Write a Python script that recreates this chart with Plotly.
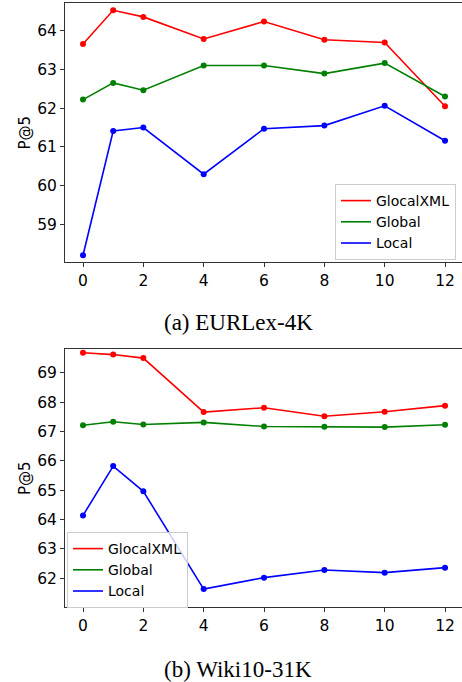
import plotly.graph_objects as go

x_vals = [0, 1, 2, 4, 6, 8, 10, 12]
series_names = ["GlocalXML", "Global", "Local"]
colors = ["#ff0000", "#008000", "#0000ff"]

eurlex_glocal = [63.65, 64.52, 64.35, 63.78, 64.23, 63.76, 63.69, 62.05]
eurlex_global = [62.22, 62.65, 62.46, 63.10, 63.10, 62.89, 63.16, 62.30]
eurlex_local = [58.21, 61.41, 61.50, 60.30, 61.47, 61.55, 62.06, 61.16]

wiki_glocal = [69.68, 69.62, 69.50, 67.66, 67.81, 67.52, 67.67, 67.88]
wiki_global = [67.21, 67.33, 67.24, 67.31, 67.17, 67.16, 67.15, 67.23]
wiki_local = [64.14, 65.82, 64.96, 61.63, 62.02, 62.28, 62.19, 62.36]

x_ticks = [0, 2, 4, 6, 8, 10, 12]
captions = ["(a) EURLex-4K", "(b) Wiki10-31K"]
y_label = "P@5"

W, H = 462, 682
ML = 65

def py(p):
    return 1 - p / H

fig = go.Figure()

top_series = [eurlex_glocal, eurlex_global, eurlex_local]
bot_series = [wiki_glocal, wiki_global, wiki_local]

for (xa, ya, lg, series) in [("x", "y", "legend", top_series), ("x2", "y2", "legend2", bot_series)]:
    for name, col, ys in zip(series_names, colors, series):
        fig.add_trace(go.Scatter(x=x_vals, y=ys, name=name, mode="lines+markers",
                                 line=dict(color=col, width=1.6),
                                 marker=dict(color=col, size=6),
                                 xaxis=xa, yaxis=ya, showlegend=False))
    # legend entries showing only the line sample
    for name, col in zip(series_names, colors):
        fig.add_trace(go.Scatter(x=[None], y=[None], name=name, mode="lines",
                                 line=dict(color=col, width=1.6),
                                 xaxis=xa, yaxis=ya, legend=lg, showlegend=True))

tickfont = dict(family="DejaVu Sans", size=15.5, color="#000")
titlefont = dict(family="DejaVu Sans", size=15, color="#000")
frame = "#333"
xr = [-0.597, 12.563]

common_x = dict(range=xr, tickvals=x_ticks, showgrid=False, zeroline=False,
                showline=True, linecolor=frame, linewidth=1, mirror=True,
                ticks="outside", ticklen=4, tickcolor=frame, tickfont=tickfont)
common_y = dict(showgrid=False, zeroline=False, showline=True, linecolor=frame,
                linewidth=1, mirror=False, ticks="outside", ticklen=4,
                tickcolor=frame, tickfont=tickfont, dtick=1,
                title=dict(text=y_label, font=titlefont, standoff=2))

legend_common = dict(font=dict(family="DejaVu Sans", size=14, color="#000"),
                     bgcolor="rgba(255,255,255,0.8)", bordercolor="#cccccc",
                     borderwidth=1, tracegroupgap=0)

fig.update_layout(
    width=W, height=H,
    margin=dict(l=ML, r=0, t=0, b=0),
    plot_bgcolor="white", paper_bgcolor="white",
    xaxis=dict(domain=[0, 1], anchor="y", **common_x),
    yaxis=dict(domain=[py(262.3), py(3.3)], anchor="x", range=[58.03, 64.70], **common_y),
    xaxis2=dict(domain=[0, 1], anchor="y2", **common_x),
    yaxis2=dict(domain=[py(607.3), py(349)], anchor="x2", range=[61.01, 69.81], **common_y),
    legend=dict(x=(456 - ML) / (W - ML), y=py(184), xanchor="right", yanchor="top",
                **legend_common),
    legend2=dict(x=(67 - ML) / (W - ML), y=py(532), xanchor="left", yanchor="top",
                 **legend_common),
    annotations=[
        dict(text=captions[0], x=(238 - ML) / (W - ML), y=py(322), xref="paper", yref="paper",
             xanchor="center", yanchor="middle", showarrow=False,
             font=dict(family="Liberation Serif", size=23, color="#000")),
        dict(text=captions[1], x=(238 - ML) / (W - ML), y=py(669), xref="paper", yref="paper",
             xanchor="center", yanchor="middle", showarrow=False,
             font=dict(family="Liberation Serif", size=23, color="#000")),
    ],
)

fig.write_html("out.html", config={"displayModeBar": False},
               post_script="document.body.style.margin='0px';")
